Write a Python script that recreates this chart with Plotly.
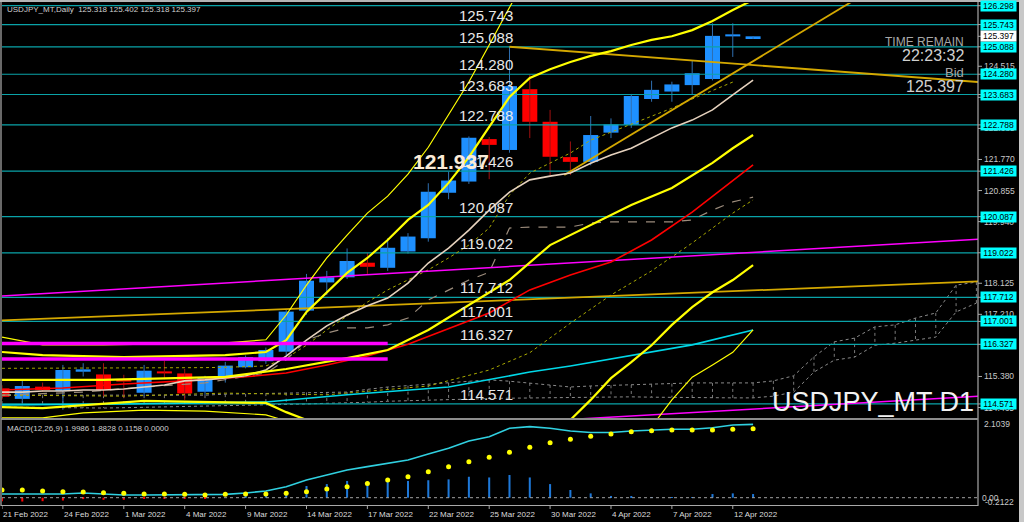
import plotly.graph_objects as go

W, H = 1024, 522

# ---------------- price data (daily candles) ----------------
bar_index = list(range(38))
opens = [115.03, 114.72, 115.08, 114.95, 115.52, 115.44, 115.28, 114.90, 115.52, 115.47,
         114.93, 115.36, 115.65, 115.83, 116.11, 117.32, 118.15, 118.30, 118.73, 118.58,
         119.06, 119.45, 120.79, 121.12, 122.37, 122.05, 123.84, 122.88, 121.84, 121.70,
         122.56, 122.79, 123.55, 123.77, 123.96, 124.14, 125.395, 125.318]
highs = [115.12, 115.28, 115.20, 115.72, 115.77, 115.77, 115.43, 115.72, 115.84, 115.60,
         115.40, 115.81, 116.00, 116.23, 117.35, 118.40, 118.49, 119.15, 119.02, 119.45,
         119.60, 121.07, 121.41, 122.45, 122.43, 125.09, 124.26, 123.23, 122.30, 123.05,
         122.98, 123.70, 124.09, 124.06, 124.68, 125.78, 125.78, 125.402]
lows = [114.70, 114.60, 114.93, 114.40, 115.38, 114.80, 114.75, 114.80, 115.30, 114.69,
        114.83, 115.20, 115.62, 115.75, 116.00, 117.20, 117.78, 118.25, 118.40, 118.49,
        119.00, 119.35, 120.60, 121.05, 121.19, 121.97, 122.40, 121.31, 121.31, 121.60,
        122.40, 122.70, 123.47, 123.47, 123.67, 124.10, 124.79, 125.318]
closes = [114.78, 115.10, 114.98, 115.57, 115.59, 114.98, 115.23, 115.55, 115.47, 114.88,
          115.36, 115.70, 115.95, 116.16, 117.29, 118.20, 118.30, 118.78, 118.61, 119.17,
          119.50, 120.82, 121.15, 122.41, 122.20, 123.93, 122.88, 121.85, 121.70, 122.49,
          122.80, 123.64, 123.82, 123.98, 124.31, 125.41, 125.42, 125.397]

date_tick_bars = [0, 3, 6, 9, 12, 15, 18, 21, 24, 27, 30, 33, 36]
date_tick_labels = ["21 Feb 2022", "24 Feb 2022", "1 Mar 2022", "4 Mar 2022", "9 Mar 2022",
                    "14 Mar 2022", "17 Mar 2022", "22 Mar 2022", "25 Mar 2022", "30 Mar 2022",
                    "4 Apr 2022", "7 Apr 2022", "12 Apr 2022"]

# horizontal level lines
level_prices = [126.298, 125.743, 125.088, 124.280, 123.683, 122.788, 121.426, 120.087,
                119.022, 117.712, 117.001, 116.327, 114.571]
labelled_levels = [125.743, 125.088, 124.280, 123.683, 122.788, 121.426, 120.087,
                   119.022, 117.712, 117.001, 116.327, 114.571]
axis_tick_prices = [124.515, 123.600, 122.685, 121.770, 120.855, 119.940,
                    118.125, 117.210, 115.380, 114.465]
bid_price = 125.397
big_label_value = "121.937"

# ---------------- indicators (main panel) ----------------
bb2_upper_x = [0, 2, 6, 11, 13, 14, 15, 16, 17, 18, 19, 20, 21, 22, 23, 24, 25, 26, 27, 28,
               29, 30, 31, 32, 33, 34, 35, 36, 37]
bb2_upper_y = [116.10, 116.01, 115.95, 116.01, 116.10, 116.45, 117.28, 117.84, 118.43, 118.87,
               119.40, 119.99, 120.43, 121.08, 121.84, 122.73, 123.61, 124.17, 124.43, 124.64,
               124.82, 124.96, 125.14, 125.29, 125.40, 125.58, 125.85, 126.17, 126.47]
bb3_upper_x = [0, 2, 5, 8, 11, 13, 14, 15, 16, 17, 18, 19, 20, 21, 22, 23, 24, 25, 26]
bb3_upper_y = [116.54, 116.31, 116.31, 116.34, 116.37, 116.46, 117.19, 118.07, 118.87, 119.54,
               120.19, 120.69, 121.34, 122.13, 123.10, 124.05, 125.14, 126.26, 127.35]
bb_mid_x = [0, 5, 11, 14, 17, 19, 21, 23, 25, 27, 29, 31, 33, 35, 36, 37]
bb_mid_y = [115.28, 115.28, 115.37, 115.60, 115.92, 116.16, 116.75, 117.48, 118.22, 119.25,
            119.84, 120.43, 120.93, 121.67, 122.10, 122.49]
bb2_lower_x = [0, 2, 7, 11, 13, 14, 15, 16, 28, 29, 30, 31, 32, 33, 34, 35, 36, 37]
bb2_lower_y = [114.48, 114.45, 114.66, 114.63, 114.60, 114.33, 114.10, 113.66, 114.10, 114.69,
               115.33, 115.80, 116.30, 116.90, 117.42, 117.86, 118.22, 118.66]
bb3_lower_x = [0, 2, 4, 7, 10, 13, 14, 16, 31, 32, 33, 34, 35, 36, 37]
bb3_lower_y = [114.16, 114.16, 114.31, 114.39, 114.36, 114.25, 114.07, 113.50, 113.40, 113.90,
               114.69, 115.36, 115.72, 116.09, 116.75]

ma_fast = [114.92, 114.92, 114.95, 114.95, 114.98, 114.98, 115.01, 115.07, 115.13, 115.25,
           115.28, 115.34, 115.40, 115.57, 115.98, 116.45, 116.87, 117.19, 117.46, 117.69,
           118.13, 118.72, 119.16, 119.69, 120.28, 120.81, 121.17, 121.28, 121.37, 121.66,
           121.90, 122.10, 122.40, 122.70, 122.93, 123.23, 123.67, 124.11]
ma_dot1 = [115.62, 115.62, 115.63, 115.64, 115.64, 115.64, 115.63, 115.63, 115.63, 115.64,
           115.64, 115.65, 115.66, 115.69, 115.92, 116.30, 116.75, 117.16, 117.57, 117.93,
           118.22, 118.52, 118.87, 119.25, 119.75, 120.72, 121.37, 121.66, 121.96, 122.34,
           122.58, 122.81, 123.05, 123.28, 123.55, 123.79, 124.05]
ma_dot2_x = [0, 6, 11, 16, 21, 24, 26, 28, 30, 32, 34, 36, 37]
ma_dot2_y = [114.83, 114.80, 114.89, 114.84, 115.10, 115.57, 116.08, 116.95, 117.78, 118.49,
             119.31, 120.19, 120.58]
ma_red_x = [0, 3, 6, 9, 12, 14, 16, 18, 20, 22, 24, 26, 28, 30, 32, 34, 36, 37]
ma_red_y = [114.98, 115.04, 115.16, 115.25, 115.37, 115.48, 115.72, 115.98, 116.33, 116.78,
            117.25, 117.93, 118.37, 118.75, 119.40, 120.22, 121.16, 121.61]
ma_cyan_x = [0, 6, 13, 17, 22, 26, 28, 31, 34, 37]
ma_cyan_y = [114.54, 114.57, 114.63, 114.84, 115.07, 115.51, 115.69, 116.01, 116.31, 116.75]
kijun_x = [0, 4, 7, 10, 13, 14, 15, 16, 17, 18, 19, 20, 21, 22, 23, 24, 25, 26, 28, 29, 30,
           33, 34, 35, 36, 37]
kijun_y = [114.83, 114.92, 115.07, 115.19, 115.48, 115.87, 116.45, 116.66, 116.81, 116.81,
           116.90, 117.10, 117.63, 117.93, 118.22, 118.45, 119.75, 119.78, 119.78, 119.90,
           119.93, 119.93, 119.99, 120.28, 120.52, 120.66]

cloud_upper = [114.83, 114.83, 114.83, 114.83, 114.83, 114.83, 114.83, 114.83, 114.83, 114.83,
               114.83, 114.86, 114.87, 114.89, 114.90, 114.91, 114.92, 114.92, 115.00, 115.07,
               115.11, 115.15, 115.19, 115.24, 115.28, 115.24, 115.19, 115.13, 115.07, 115.10,
               115.12, 115.13, 115.15, 115.17, 115.19, 115.19, 115.19, 115.19, 115.25, 115.40,
               115.96, 116.40, 116.51, 116.84, 116.90, 117.10, 117.25, 118.07, 118.16]
cloud_lower = [114.48, 114.47, 114.46, 114.46, 114.45, 114.45, 114.46, 114.47, 114.48, 114.50,
               114.51, 114.52, 114.53, 114.54, 114.56, 114.57, 114.59, 114.60, 114.62, 114.65,
               114.67, 114.68, 114.69, 114.71, 114.73, 114.74, 114.75, 114.76, 114.77, 114.78,
               114.78, 114.78, 114.77, 114.76, 114.75, 114.75, 114.75, 114.75, 114.80, 114.92,
               115.51, 115.86, 115.95, 116.30, 116.36, 116.45, 116.54, 117.28, 117.54]

# trend lines (endpoints: bar, price)
magenta_channel_top = ([0, 48.1], [117.75, 119.42])
magenta_channel_bottom = ([27, 48.1], [114.08, 114.80])
magenta_zone_top = ([0, 19], [116.351, 116.351])
magenta_zone_bottom = ([0, 19], [115.895, 115.895])
gold_rising = ([27.7, 42.2], [121.31, 126.54])
gold_falling = ([25, 48.1], [125.09, 124.05])
gold_long = ([0, 48.1], [117.03, 118.18])

# ---------------- MACD panel ----------------
macd_line = [0.106, 0.106, 0.106, 0.106, 0.135, 0.106, 0.077, 0.077, 0.077, 0.077, 0.077,
             0.096, 0.135, 0.192, 0.315, 0.507, 0.65, 0.794, 0.89, 0.985, 1.08, 1.25, 1.415,
             1.625, 1.748, 1.99, 2.035, 1.99, 1.91, 1.87, 1.87, 1.91, 1.94, 1.96, 1.96, 2.006,
             2.083, 2.10]
macd_signal = [0.22, 0.22, 0.19, 0.172, 0.163, 0.143, 0.125, 0.106, 0.106, 0.096, 0.077,
               0.096, 0.106, 0.106, 0.125, 0.172, 0.249, 0.315, 0.41, 0.507, 0.60, 0.745, 0.89,
               1.03, 1.157, 1.30, 1.444, 1.576, 1.673, 1.76, 1.825, 1.89, 1.92, 1.94, 1.94, 1.94,
               1.96, 1.977]
macd_osma = [-0.10, -0.11, -0.10, -0.08, -0.04, -0.06, -0.06, -0.03, -0.03, -0.03, -0.01,
             0.0, 0.03, 0.14, 0.19, 0.335, 0.39, 0.48, 0.43, 0.48, 0.48, 0.50, 0.525, 0.60,
             0.58, 0.65, 0.58, 0.39, 0.22, 0.124, 0.05, 0.03, 0.02, 0.01, 0.02, 0.105, 0.124,
             0.105]
macd_axis_top = 2.1039

title_text = "USDJPY_MT,Daily  125.318 125.402 125.318 125.397"
macd_title = "MACD(12,26,9) 1.9986 1.8828 0.1158 0.0000"
macd_top_label = "2.1039"
macd_bottom_label = "-0.2122"

# ---------------- figure ----------------
def px(xp):
    return xp / W


def py(yp):
    return 1 - yp / H


fig = go.Figure()

SMALL = "Liberation Sans, Arial, sans-serif"

# Ichimoku-like cloud (dotted)
cloud_x = list(range(len(cloud_upper)))
vx, vy = [], []
for i in cloud_x:
    vx += [i, i, None]
    vy += [cloud_upper[i], cloud_lower[i], None]
fig.add_trace(go.Scatter(x=vx, y=vy, mode="lines", line=dict(color="#7A7A7A", width=1, dash="dot"),
                         hoverinfo="skip"))
fig.add_trace(go.Scatter(x=cloud_x, y=cloud_upper, mode="lines",
                         line=dict(color="#8A8A8A", width=1, dash="dot"), hoverinfo="skip"))
fig.add_trace(go.Scatter(x=cloud_x, y=cloud_lower, mode="lines",
                         line=dict(color="#8A8A8A", width=1, dash="dot"), hoverinfo="skip"))

# candles
up = [i for i in bar_index if closes[i] >= opens[i]]
dn = [i for i in bar_index if closes[i] < opens[i]]
for idxs, wick_col in ((up, "#2F6FB0"), (dn, "#A01010")):
    wx, wy = [], []
    for i in idxs:
        wx += [i, i, None]
        wy += [lows[i], highs[i], None]
    fig.add_trace(go.Scatter(x=wx, y=wy, mode="lines", line=dict(color=wick_col, width=1),
                             hoverinfo="skip"))
for idxs, col in ((up, "#1E90FF"), (dn, "#FF0000")):
    fig.add_trace(go.Bar(x=idxs,
                         y=[max(abs(closes[i] - opens[i]), 0.06) for i in idxs],
                         base=[min(opens[i], closes[i]) for i in idxs],
                         width=0.74, marker=dict(color=col, line=dict(width=0)),
                         hoverinfo="skip"))

# horizontal levels
for p in level_prices:
    fig.add_trace(go.Scatter(x=[0, 48.1], y=[p, p], mode="lines",
                             line=dict(color="#0AA3A8", width=1.2), hoverinfo="skip"))


def add_line(x, y, color, width, dash="solid"):
    fig.add_trace(go.Scatter(x=x, y=y, mode="lines", line=dict(color=color, width=width, dash=dash),
                             hoverinfo="skip"))


add_line(list(range(len(ma_dot1))), ma_dot1, "#A8A800", 1, "dot")
add_line(ma_dot2_x, ma_dot2_y, "#A8A800", 1, "dot")
add_line(kijun_x, kijun_y, "#9C8C7C", 1.2, "dash")
add_line(*magenta_channel_top, "#FF00FF", 1.5)
add_line(*magenta_channel_bottom, "#FF00FF", 1.5)
add_line(*gold_long, "#D4A800", 1.8)
add_line(*gold_falling, "#D4A800", 1.8)
add_line(*gold_rising, "#D4A800", 1.8)
add_line(ma_cyan_x, ma_cyan_y, "#00D8E8", 1.6)
add_line(ma_red_x, ma_red_y, "#FF0000", 1.6)
add_line(list(range(len(ma_fast))), ma_fast, "#E6D2BE", 1.6)
add_line(bb3_upper_x, bb3_upper_y, "#FFFF00", 1.2)
add_line(bb3_lower_x, bb3_lower_y, "#FFFF00", 1.2)
add_line(bb_mid_x, bb_mid_y, "#FFFF00", 2.2)
add_line(bb2_upper_x, bb2_upper_y, "#FFFF00", 2.2)
add_line(bb2_lower_x, bb2_lower_y, "#FFFF00", 2.2)
add_line(*magenta_zone_top, "#FF00FF", 3.5)
add_line(*magenta_zone_bottom, "#FF00FF", 3.5)

# MACD panel
pos = [i for i in bar_index if macd_osma[i] >= 0]
neg = [i for i in bar_index if macd_osma[i] < 0]
fig.add_trace(go.Bar(x=pos, y=[macd_osma[i] for i in pos], width=0.1, yaxis="y2",
                     marker=dict(color="#1E78D8", line=dict(width=0)), hoverinfo="skip"))
fig.add_trace(go.Bar(x=neg, y=[macd_osma[i] for i in neg], width=0.1, yaxis="y2",
                     marker=dict(color="#FF0000", line=dict(width=0)), hoverinfo="skip"))
fig.add_trace(go.Scatter(x=bar_index, y=macd_line, yaxis="y2", mode="lines",
                         line=dict(color="#30D0E0", width=1.6), hoverinfo="skip"))
fig.add_trace(go.Scatter(x=bar_index, y=macd_signal, yaxis="y2", mode="markers",
                         marker=dict(color="#FFFF00", size=5), hoverinfo="skip"))

shapes = []
shapes.append(dict(type="line", xref="x", yref="y2", x0=0, x1=48.1, y0=0, y1=0,
                   line=dict(color="#A0A0A0", width=1, dash="dot")))
GREY = "#8C8C8C"
shapes += [
    dict(type="rect", xref="paper", yref="paper", x0=0, x1=1, y0=py(2), y1=1,
         fillcolor="#B4B4B4", line=dict(width=0)),
    dict(type="line", xref="paper", yref="paper", x0=px(1), x1=px(1), y0=py(506), y1=py(2),
         line=dict(color=GREY, width=1.5)),
    dict(type="line", xref="paper", yref="paper", x0=px(978), x1=px(978), y0=py(506), y1=py(2),
         line=dict(color="#A8A8A8", width=1.2)),
    dict(type="line", xref="paper", yref="paper", x0=px(1), x1=px(978), y0=py(419), y1=py(419),
         line=dict(color=GREY, width=2)),
    dict(type="line", xref="paper", yref="paper", x0=px(1), x1=px(978), y0=py(505.5), y1=py(505.5),
         line=dict(color="#A8A8A8", width=1.2)),
    dict(type="rect", xref="paper", yref="paper", x0=px(1019), x1=1, y0=0, y1=1,
         fillcolor="#C8C8C8", line=dict(width=0)),
]
for b in date_tick_bars:
    shapes.append(dict(type="line", xref="x", yref="paper", x0=b, x1=b, y0=py(509), y1=py(505.5),
                       line=dict(color="#A8A8A8", width=1)))
for p in axis_tick_prices + level_prices + [bid_price]:
    shapes.append(dict(type="line", xref="paper", yref="y", x0=px(978), x1=px(982), y0=p, y1=p,
                       line=dict(color="#A8A8A8", width=1)))

ann = []
for p in labelled_levels:
    ann.append(dict(x=25.27, xref="x", y=p, yref="y", text=f"{p:.3f}", showarrow=False,
                    xanchor="right", yanchor="bottom", yshift=-1,
                    font=dict(family=SMALL, size=15, color="#E8E8E8")))
ann.append(dict(x=px(451), xref="paper", y=py(162), yref="paper", text=f"<b>{big_label_value}</b>",
                showarrow=False, xanchor="center", yanchor="middle",
                font=dict(family=SMALL, size=21, color="#FBEBD8")))
for p in axis_tick_prices:
    ann.append(dict(x=px(982), xref="paper", y=p, yref="y", text=f"{p:.3f}", showarrow=False,
                    xanchor="left", yanchor="middle", font=dict(family=SMALL, size=8.5, color="#C8C8C8")))
for p in level_prices:
    ann.append(dict(x=px(980), xref="paper", y=p, yref="y", text=f"{p:.3f}", showarrow=False,
                    xanchor="left", yanchor="middle", width=35, height=10, borderpad=0,
                    bgcolor="#00FFFF", align="center", valign="middle",
                    font=dict(family=SMALL, size=8.5, color="#000000")))
ann.append(dict(x=px(980), xref="paper", y=bid_price, yref="y", text=f"{bid_price:.3f}",
                showarrow=False, xanchor="left", yanchor="middle", width=35, height=10, borderpad=0,
                bgcolor="#FFFFFF", align="center", valign="middle",
                font=dict(family=SMALL, size=8.5, color="#000000")))
ann += [
    dict(x=px(5), xref="paper", y=py(9), yref="paper", text=title_text, showarrow=False,
         xanchor="left", yanchor="middle", font=dict(family=SMALL, size=8, color="#D0D0D0")),
    dict(x=px(5), xref="paper", y=py(428), yref="paper", text=macd_title, showarrow=False,
         xanchor="left", yanchor="middle", font=dict(family=SMALL, size=8, color="#D0D0D0")),
    dict(x=px(966), xref="paper", y=py(41.5), yref="paper", text="TIME REMAIN", showarrow=False,
         xanchor="right", yanchor="middle", font=dict(family=SMALL, size=12, color="#A8A8A8")),
    dict(x=px(966), xref="paper", y=py(55.5), yref="paper", text="22:23:32", showarrow=False,
         xanchor="right", yanchor="middle", font=dict(family=SMALL, size=16, color="#D0D0D0")),
    dict(x=px(966), xref="paper", y=py(73), yref="paper", text="Bid", showarrow=False,
         xanchor="right", yanchor="middle", font=dict(family=SMALL, size=13, color="#A8A8A8")),
    dict(x=px(966), xref="paper", y=py(87), yref="paper", text=f"{bid_price:.3f}", showarrow=False,
         xanchor="right", yanchor="middle", font=dict(family=SMALL, size=16, color="#D0D0D0")),
    dict(x=px(976), xref="paper", y=py(402), yref="paper", text="USDJPY_MT D1", showarrow=False,
         xanchor="right", yanchor="middle", font=dict(family=SMALL, size=27, color="#F2F2F2")),
    dict(x=px(982), xref="paper", y=macd_axis_top, yref="y2", text=macd_top_label,
         showarrow=False, xanchor="left", yanchor="middle",
         font=dict(family=SMALL, size=8.5, color="#C8C8C8")),
    dict(x=px(980), xref="paper", y=0, yref="y2", text="0.00", showarrow=False,
         xanchor="left", yanchor="middle", font=dict(family=SMALL, size=8.5, color="#C8C8C8")),
    dict(x=px(983), xref="paper", y=py(502), yref="paper", text=macd_bottom_label, showarrow=False,
         xanchor="left", yanchor="middle", font=dict(family=SMALL, size=8.5, color="#C8C8C8")),
]
for b, t in zip(date_tick_bars, date_tick_labels):
    ann.append(dict(x=b, xref="x", y=py(514), yref="paper", text=t, showarrow=False,
                    xanchor="left", yanchor="middle", xshift=-1,
                    font=dict(family=SMALL, size=8, color="#DCDCDC")))

fig.update_layout(
    width=W, height=H, margin=dict(l=0, r=0, t=0, b=0),
    paper_bgcolor="#000000", plot_bgcolor="#000000", showlegend=False, barmode="overlay",
    xaxis=dict(domain=[px(2), px(978)], range=[0, 48.08], visible=False, fixedrange=True),
    yaxis=dict(domain=[py(418), py(3)], range=[114.157, 126.378], visible=False),
    yaxis2=dict(domain=[py(505), py(420)], range=[-0.209, 2.226], visible=False, anchor="x"),
    shapes=shapes, annotations=ann,
)

fig.write_html("out.html", config={"displayModeBar": False},
               post_script="document.body.style.margin='0px';document.body.style.overflow='hidden';")
